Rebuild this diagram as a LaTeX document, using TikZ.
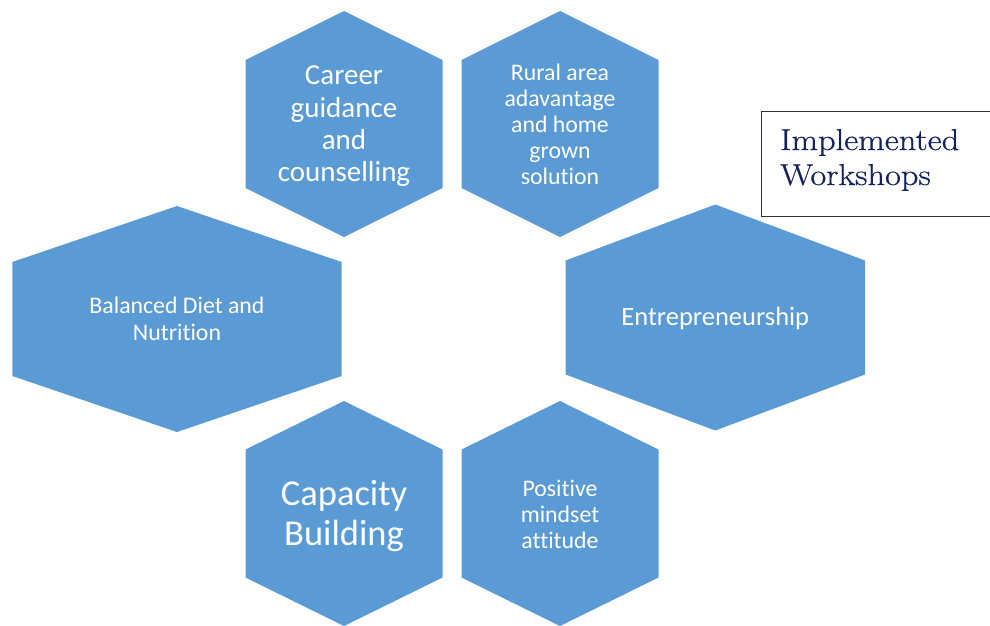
\documentclass[tikz,border=0pt]{standalone}
\usepackage{fontspec}
\setmainfont[Ligatures={NoCommon}]{Carlito}
\newfontfamily\lmfont[FakeStretch=1.14,FakeBold=0.6]{Latin Modern Roman}
\definecolor{hexblue}{HTML}{5B9BD5}
\definecolor{navy}{HTML}{14225E}
\tikzset{
  hexfill/.style={fill=hexblue, draw=none},
  hextext/.style={text=white, align=center, inner sep=0pt},
}
% #1 name, #2 cx, #3 cy, #4 half width, #5 half height, #6 side half height
\newcommand\hexshape[6]{%
  \fill[hexfill] (#2,#3-#5) -- (#2+#4,#3-#6) -- (#2+#4,#3+#6) -- (#2,#3+#5)
     -- (#2-#4,#3+#6) -- (#2-#4,#3-#6) -- cycle;
  \coordinate (#1) at (#2,#3);
}
\begin{document}
\begin{tikzpicture}[x=1pt,y=-1pt]
\useasboundingbox (0,0) rectangle (990,625);
\begin{scope}
\clip (0,0) rectangle (990,625);
\hexshape{career}{344}{124}{98.5}{113}{64}
\hexshape{rural}{560}{124}{98.5}{113}{64}
\hexshape{diet}{177}{319}{164.7}{113}{57}
\hexshape{entre}{715.3}{317.5}{149.7}{113}{57}
\hexshape{capacity}{344}{513.5}{98.5}{112.5}{64}
\hexshape{positive}{560}{513.5}{98.5}{112.5}{64}
\end{scope}
\node[hextext, font=\fontsize{29}{32.3}\selectfont] (careerT) at ([yshift=-2.5pt]career) {Career\\guidance\\and\\counselling};
\node[hextext, font=\fontsize{23.8}{26}\selectfont] (ruralT) at (rural) {Rural area\\adavantage\\and home\\grown\\solution};
\node[hextext, font=\fontsize{23.8}{26.5}\selectfont] (dietT) at (diet) {Balanced Diet and\\Nutrition};
\node[hextext, font=\fontsize{26.5}{30}\selectfont] (entreT) at ([yshift=-1pt]entre) {Entrepreneurship};
\node[hextext, font=\fontsize{36.5}{40.5}\selectfont] (capacityT) at ([yshift=-2.5pt]capacity) {Capacity\\Building};
\node[hextext, font=\fontsize{23.8}{26}\selectfont] (positiveT) at ([yshift=-1pt]positive) {Positive\\mindset\\attitude};
\node[draw=black!80, line width=1.2pt, minimum width=229pt, minimum height=105.5pt, anchor=north west, inner sep=0pt] (box) at (760.5,110.5) {};
\node[anchor=base west, align=left, text=navy, inner sep=0pt, font=\lmfont\fontsize{30.2}{35}\selectfont] (boxT) at (780,185) {Implemented\\Workshops};
\end{tikzpicture}
\end{document}
